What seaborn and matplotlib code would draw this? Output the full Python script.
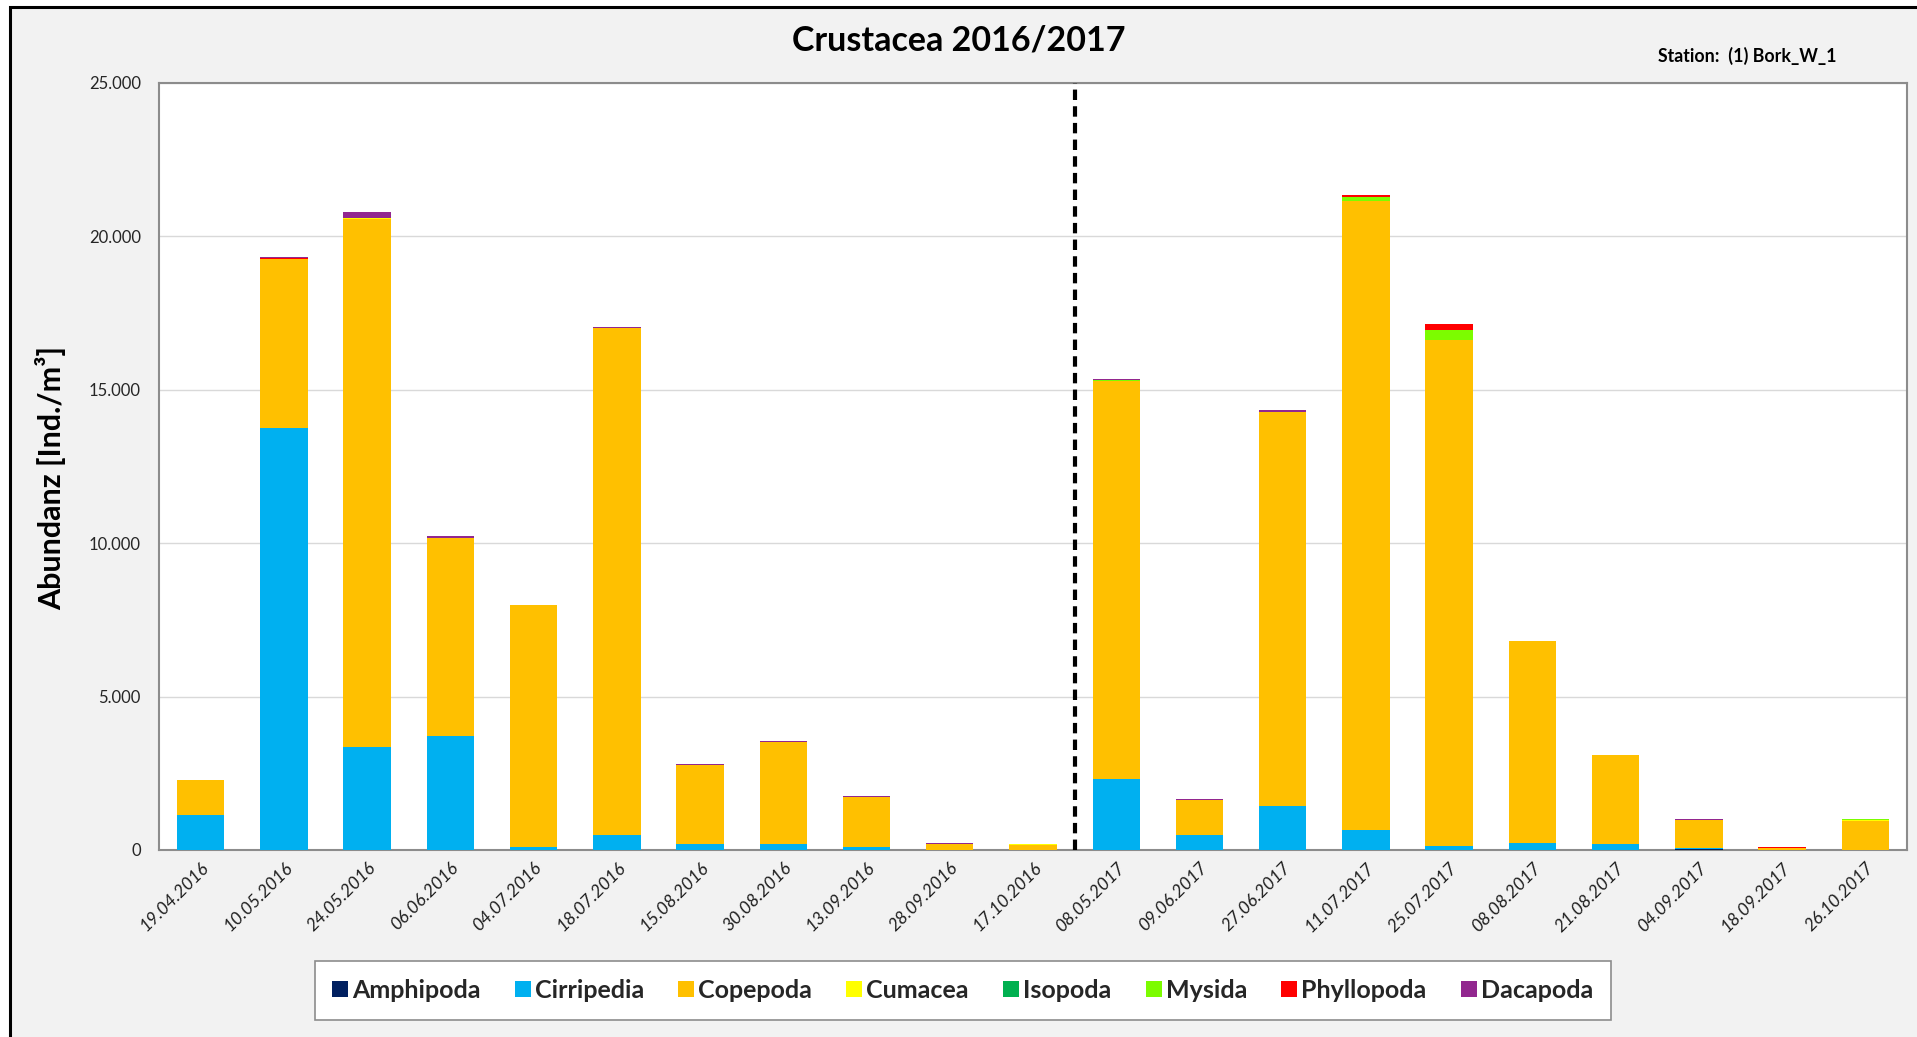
import matplotlib
matplotlib.use("Agg")
import matplotlib.pyplot as plt
import matplotlib.ticker as mticker
from matplotlib.lines import Line2D
from matplotlib.patches import Rectangle
import numpy as np
import pandas as pd
import seaborn as sns

# ---------------- data ----------------
dates = ["19.04.2016", "10.05.2016", "24.05.2016", "06.06.2016", "04.07.2016",
         "18.07.2016", "15.08.2016", "30.08.2016", "13.09.2016", "28.09.2016",
         "17.10.2016", "08.05.2017", "09.06.2017", "27.06.2017", "11.07.2017",
         "25.07.2017", "08.08.2017", "21.08.2017", "04.09.2017", "18.09.2017",
         "26.10.2017"]

amphipoda  = [0, 0, 0, 0, 0, 0, 0, 0, 0, 0, 0, 0, 0, 0, 0, 0, 0, 0, 20, 0, 0]
cirripedia = [1150, 13750, 3350, 3700, 100, 480, 180, 190, 110, 0, 0,
              2330, 480, 1450, 640, 130, 220, 180, 40, 0, 0]
copepoda   = [1140, 5500, 17230, 6460, 7870, 16530, 2600, 3340, 1630, 190, 170,
              12970, 1150, 12840, 20530, 16480, 6580, 2910, 920, 70, 960]
cumacea    = [0, 0, 20, 0, 0, 0, 0, 0, 0, 0, 15, 0, 0, 0, 0, 0, 0, 0, 0, 0, 20]
isopoda    = [0, 0, 0, 0, 0, 0, 0, 0, 0, 0, 0, 0, 0, 0, 0, 0, 0, 0, 0, 0, 0]
mysida     = [0, 0, 0, 0, 0, 0, 0, 0, 0, 0, 10, 20, 0, 0, 130, 350, 0, 0, 0, 0, 20]
phyllopoda = [0, 30, 0, 20, 0, 0, 0, 0, 0, 10, 0, 0, 0, 0, 40, 170, 0, 0, 10, 20, 0]
dacapoda   = [0, 40, 190, 50, 30, 50, 30, 30, 20, 20, 0, 30, 20, 50, 0, 0, 20, 20, 20, 10, 0]

taxa = ["Amphipoda", "Cirripedia", "Copepoda", "Cumacea", "Isopoda",
        "Mysida", "Phyllopoda", "Dacapoda"]
series = [amphipoda, cirripedia, copepoda, cumacea, isopoda, mysida, phyllopoda, dacapoda]
colors = ["#002060", "#00B0F0", "#FFC000", "#FFFF00", "#00B050",
          "#7CFC00", "#FF0000", "#92278F"]

title = "Crustacea 2016/2017"
station = "Station:  (1) Bork_W_1"
ylabel = "Abundanz [Ind./m\u00b3]"

# ---------------- figure ----------------
sns.set_theme(style="white")
plt.rcParams["font.family"] = ["Lato", "DejaVu Sans"]

W, H = 1917, 1037
fig = plt.figure(figsize=(W / 100, H / 100), dpi=100, facecolor="white")
fig.patches.append(Rectangle((10 / W, -0.05), 1.2, (H - 7) / H + 0.05,
                             transform=fig.transFigure, facecolor="#F2F2F2",
                             edgecolor="black", linewidth=2.2, zorder=-10))

ax = fig.add_axes([159 / W, 1 - 850 / H, (1907 - 159) / W, (850 - 83) / H])
ax.set_facecolor("white")

df = pd.DataFrame({t: s for t, s in zip(taxa, series)}, index=dates)
cum = df.cumsum(axis=1)

# draw cumulative layers from top to bottom (overplotting gives the stack)
for t, c in reversed(list(zip(taxa, colors))):
    sns.barplot(x=dates, y=cum[t].values, color=c, saturation=1, width=0.57,
                linewidth=0, ax=ax, zorder=3)

ax.set_xlim(-0.5, len(dates) - 0.5)
ax.set_ylim(0, 25000)
ax.yaxis.set_major_locator(mticker.MultipleLocator(5000))
ax.yaxis.set_major_formatter(mticker.FuncFormatter(
    lambda v, p: f"{int(v):,}".replace(",", ".")))
ax.grid(axis="y", color="#D9D9D9", linewidth=1, zorder=0)
ax.set_axisbelow(True)
for sp in ax.spines.values():
    sp.set_visible(True)
    sp.set_color("#8C8C8C")
    sp.set_linewidth(1.5)

ax.tick_params(axis="y", length=0, pad=13, labelsize=12, labelcolor="#262626")
ax.tick_params(axis="x", length=0, pad=7, labelsize=12.8, labelcolor="#1F1F1F")
ax.set_xlabel("")
ax.set_ylabel("")
ax.set_xticks(range(len(dates)))
ax.set_xticklabels(dates, rotation=45, ha="right", rotation_mode="anchor",
                   fontstyle="italic")

# separator between the two years
ax.axvline(10.5, color="black", linewidth=3, linestyle=(0, (2.5, 1.5)), zorder=4)

# texts
fig.text(0.5, 1 - 40 / H, title, ha="center", va="center",
         fontsize=24.5, fontweight="bold", color="black")
fig.text(1658 / W, 1 - 56 / H, station, ha="left", va="center",
         fontsize=12.8, fontweight="bold", color="black")
fig.text(51 / W, 1 - 478 / H, ylabel, ha="center", va="center", rotation=90,
         fontsize=22, fontweight="bold", color="black")

# legend
handles = [Line2D([0], [0], marker="s", linestyle="none", markersize=11.5,
                  markerfacecolor=c, markeredgewidth=0) for c in colors]
leg = fig.legend(handles, taxa, loc="center", bbox_to_anchor=(963 / W, 1 - 990 / H),
                 ncol=8, frameon=True, fancybox=False,
                 prop={"weight": "bold", "size": 18},
                 handlelength=0.55, handletextpad=0.2, columnspacing=1.42,
                 borderpad=0.72, edgecolor="#8C8C8C", facecolor="white",
                 framealpha=1)
leg.get_frame().set_linewidth(1.2)

fig.savefig("out.png", dpi=100, facecolor=fig.get_facecolor())
